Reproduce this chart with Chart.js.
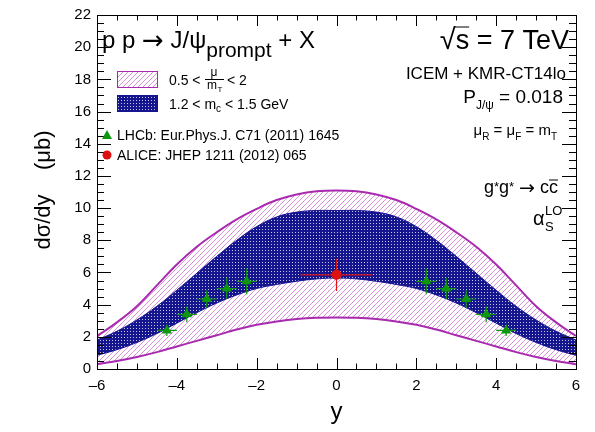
<!DOCTYPE html>
<html>
<head>
<meta charset="utf-8">
<script src="https://cdn.jsdelivr.net/npm/chart.js@4.4.1/dist/chart.umd.min.js"></script>
<style>
html, body { margin: 0; padding: 0; background: #fff; }
#wrap { width: 595px; height: 432px; }
</style>
</head>
<body>
<div id="wrap"><canvas id="dsdy" width="595" height="432"></canvas></div>
<script>
// rapidity grid for the theory curves
var rapidity = [-6, -5.5, -5, -4.5, -4, -3.5, -3, -2.5, -2, -1.5, -1, -0.5, 0, 0.5, 1, 1.5, 2, 2.5, 3, 3.5, 4, 4.5, 5, 5.5, 6];
// scale variation 0.5 < mu/mT < 2
var scaleHigh = [2.05, 2.9, 3.9, 5.2, 6.5, 7.6, 8.5, 9.3, 9.95, 10.5, 10.85, 11.05, 11.1, 11.05, 10.85, 10.5, 9.95, 9.3, 8.5, 7.6, 6.5, 5.2, 3.9, 2.9, 2.05];
var scaleLow = [0.3, 0.5, 0.75, 1.05, 1.4, 1.75, 2.1, 2.45, 2.75, 2.95, 3.1, 3.18, 3.2, 3.18, 3.1, 2.95, 2.75, 2.45, 2.1, 1.75, 1.4, 1.05, 0.75, 0.5, 0.3];
// charm mass variation 1.2 < mc < 1.5 GeV
var massHigh = [1.8, 2.35, 3.05, 3.9, 4.9, 5.95, 7.0, 8.0, 8.85, 9.45, 9.75, 9.85, 9.85, 9.85, 9.75, 9.45, 8.85, 8.0, 7.0, 5.95, 4.9, 3.9, 3.05, 2.35, 1.8];
var massLow = [0.85, 1.2, 1.65, 2.2, 2.85, 3.5, 4.1, 4.6, 5.0, 5.25, 5.45, 5.6, 5.65, 5.6, 5.45, 5.25, 5.0, 4.6, 4.1, 3.5, 2.85, 2.2, 1.65, 1.2, 0.85];

// LHCb prompt J/psi
var lhcbRap = [-4.25, -3.75, -3.25, -2.75, -2.25, 2.25, 2.75, 3.25, 3.75, 4.25];
var lhcbXsec = [2.4, 3.4, 4.35, 5.0, 5.45, 5.45, 5.0, 4.35, 3.4, 2.4];
var lhcbErr = [0.35, 0.5, 0.55, 0.65, 0.8, 0.8, 0.65, 0.55, 0.5, 0.35];
var lhcbBin = [0.25, 0.25, 0.25, 0.25, 0.25, 0.25, 0.25, 0.25, 0.25, 0.25];
// ALICE mid-rapidity
var aliceRap = [0];
var aliceXsec = [5.85];
var aliceErr = [1.0];
var aliceBin = [0.9];

var xTicks = [-6, -4, -2, 0, 2, 4, 6];
var xTickText = ['\u20136', '\u20134', '\u20132', '0', '2', '4', '6'];
var yTicks = [0, 2, 4, 6, 8, 10, 12, 14, 16, 18, 20, 22];

var FONT = '"Liberation Sans", Arial, Helvetica, sans-serif';
var SYM = '"DejaVu Sans", sans-serif';
var MAGENTA = '#a82aae';
var NAVY = '#15158f';
var GREEN = '#0e960e';
var RED = '#dd1111';

function pts(xs, ys) {
  return xs.map(function (x, i) { return { x: x, y: ys[i] }; });
}

function hatchPattern() {
  var c = document.createElement('canvas');
  c.width = 5; c.height = 5;
  var g = c.getContext('2d');
  g.strokeStyle = '#d993dc';
  g.lineWidth = 1;
  g.beginPath();
  g.moveTo(-1, 6); g.lineTo(6, -1);
  g.moveTo(-1, 1); g.lineTo(1, -1);
  g.moveTo(4, 6); g.lineTo(6, 4);
  g.stroke();
  return g.createPattern(c, 'repeat');
}

function dotPattern() {
  var c = document.createElement('canvas');
  c.width = 3; c.height = 3;
  var g = c.getContext('2d');
  g.fillStyle = NAVY;
  g.fillRect(0, 0, 3, 3);
  g.fillStyle = 'rgba(255,255,255,0.75)';
  g.fillRect(1, 1, 1, 1);
  return g.createPattern(c, 'repeat');
}

var hatch = hatchPattern();
var dots = dotPattern();

// text made of pieces with their own size, font and baseline shift
function rich(ctx, x, y, parts, align) {
  var w = 0;
  parts.forEach(function (p) {
    ctx.font = p.s + 'px ' + (p.f || FONT);
    p.w = ctx.measureText(p.t).width;
    w += p.w;
  });
  var cx = align === 'right' ? x - w : x;
  ctx.textAlign = 'left';
  ctx.textBaseline = 'alphabetic';
  parts.forEach(function (p) {
    ctx.font = p.s + 'px ' + (p.f || FONT);
    ctx.fillText(p.t, cx, y + (p.dy || 0));
    if (p.over) {
      ctx.beginPath();
      ctx.lineWidth = 1;
      ctx.moveTo(cx + (p.ox || 0), y + (p.dy || 0) - p.over);
      ctx.lineTo(cx + p.w, y + (p.dy || 0) - p.over);
      ctx.stroke();
    }
    cx += p.w;
  });
}

var errorSets = {
  4: { x: lhcbRap, y: lhcbXsec, ey: lhcbErr, ex: lhcbBin, color: GREEN },
  5: { x: aliceRap, y: aliceXsec, ey: aliceErr, ex: aliceBin, color: RED }
};

var errorBars = {
  id: 'errorBars',
  beforeDatasetDraw: function (chart, args) {
    var set = errorSets[args.index];
    if (!set) return;
    var ctx = chart.ctx, sx = chart.scales.x, sy = chart.scales.y;
    ctx.save();
    ctx.strokeStyle = set.color;
    ctx.lineWidth = 1.2;
    set.x.forEach(function (x, i) {
      var px = sx.getPixelForValue(x), py = sy.getPixelForValue(set.y[i]);
      ctx.beginPath();
      ctx.moveTo(sx.getPixelForValue(x - set.ex[i]), py);
      ctx.lineTo(sx.getPixelForValue(x + set.ex[i]), py);
      ctx.moveTo(px, sy.getPixelForValue(set.y[i] - set.ey[i]));
      ctx.lineTo(px, sy.getPixelForValue(set.y[i] + set.ey[i]));
      ctx.stroke();
    });
    ctx.restore();
  }
};

var frame = {
  id: 'frame',
  afterDraw: function (chart) {
    var ctx = chart.ctx, a = chart.chartArea, sx = chart.scales.x, sy = chart.scales.y;
    ctx.save();
    ctx.strokeStyle = '#000';
    ctx.fillStyle = '#000';
    ctx.lineWidth = 1;
    ctx.strokeRect(a.left + 0.5, a.top + 0.5, a.right - a.left, a.bottom - a.top);

    // inward ticks on all four sides
    ctx.beginPath();
    var v, p, len;
    for (v = -6; v <= 6.001; v += 0.5) {
      p = Math.round(sx.getPixelForValue(v)) + 0.5;
      len = Math.abs(v % 2) < 0.01 ? 11 : 5.5;
      ctx.moveTo(p, a.bottom); ctx.lineTo(p, a.bottom - len);
      ctx.moveTo(p, a.top); ctx.lineTo(p, a.top + len);
    }
    for (v = 0; v <= 22.001; v += 0.5) {
      p = Math.round(sy.getPixelForValue(v)) + 0.5;
      len = Math.abs(v % 2) < 0.01 ? 14 : 7;
      ctx.moveTo(a.left, p); ctx.lineTo(a.left + len, p);
      ctx.moveTo(a.right, p); ctx.lineTo(a.right - len, p);
    }
    ctx.stroke();

    ctx.font = '15px ' + FONT;
    ctx.textAlign = 'center';
    ctx.textBaseline = 'alphabetic';
    xTicks.forEach(function (t, i) {
      ctx.fillText(xTickText[i], sx.getPixelForValue(t), a.bottom + 21);
    });
    ctx.textAlign = 'right';
    ctx.textBaseline = 'middle';
    yTicks.forEach(function (t) {
      ctx.fillText(String(t), a.left - 6, sy.getPixelForValue(t));
    });

    // axis titles
    ctx.font = '24px ' + FONT;
    ctx.textAlign = 'center';
    ctx.textBaseline = 'alphabetic';
    ctx.fillText('y', (a.left + a.right) / 2, 419);
    ctx.save();
    ctx.translate(50, 190);
    ctx.rotate(-Math.PI / 2);
    ctx.font = '22px ' + FONT;
    ctx.fillText('d\u03c3/dy    (\u03bcb)', 0, 0);
    ctx.restore();

    // process and settings
    rich(ctx, 102, 48, [
      { t: 'p p ', s: 24 },
      { t: '\u2192', s: 26, f: SYM, dy: 1 },
      { t: ' J/\u03c8', s: 24 },
      { t: 'prompt', s: 21, dy: 9 },
      { t: ' + X', s: 24 }
    ]);
    rich(ctx, 569, 49, [
      { t: '\u221a', s: 29 },
      { t: 's', s: 27, over: 22, ox: -1 },
      { t: ' = 7 TeV', s: 27 }
    ], 'right');
    rich(ctx, 566, 79, [{ t: 'ICEM + KMR-CT14lo', s: 17 }], 'right');
    rich(ctx, 563, 103, [
      { t: 'P', s: 19 },
      { t: 'J/\u03c8', s: 12, dy: 6 },
      { t: ' = 0.018', s: 19 }
    ], 'right');
    rich(ctx, 557, 135, [
      { t: '\u03bc', s: 15 }, { t: 'R', s: 10, dy: 5 },
      { t: ' = \u03bc', s: 15 }, { t: 'F', s: 10, dy: 5 },
      { t: ' = m', s: 15 }, { t: 'T', s: 10, dy: 5 }
    ], 'right');
    rich(ctx, 558, 193, [
      { t: 'g', s: 18 }, { t: '*', s: 13, dy: -2 },
      { t: 'g', s: 18 }, { t: '*', s: 13, dy: -2 },
      { t: ' ', s: 18 },
      { t: '\u2192', s: 19, f: SYM, dy: 1 },
      { t: ' c', s: 18 },
      { t: 'c', s: 18, over: 13 }
    ], 'right');
    ctx.font = '20px ' + FONT;
    ctx.textAlign = 'left';
    ctx.fillText('\u03b1', 533, 225);
    ctx.font = '13px ' + FONT;
    ctx.fillText('LO', 545, 215);
    ctx.fillText('S', 545, 231);

    // legend
    ctx.fillStyle = hatch;
    ctx.fillRect(117, 71, 40, 16);
    ctx.strokeStyle = MAGENTA;
    ctx.strokeRect(117.5, 71.5, 40, 16);
    ctx.fillStyle = dots;
    ctx.fillRect(117, 95, 40, 16);
    ctx.strokeStyle = NAVY;
    ctx.strokeRect(117.5, 95.5, 40, 16);

    ctx.fillStyle = '#000';
    ctx.strokeStyle = '#000';
    ctx.font = '14px ' + FONT;
    ctx.fillText('0.5 <', 169, 85);
    ctx.font = '12px ' + FONT;
    ctx.textAlign = 'center';
    ctx.fillText('\u03bc', 214, 76);
    ctx.beginPath();
    ctx.moveTo(205, 79.5); ctx.lineTo(224, 79.5);
    ctx.stroke();
    ctx.fillText('m', 212, 89);
    ctx.font = '8px ' + FONT;
    ctx.fillText('T', 220, 92);
    ctx.textAlign = 'left';
    ctx.font = '14px ' + FONT;
    ctx.fillText('< 2', 227, 85);
    rich(ctx, 169, 109, [
      { t: '1.2 < m', s: 14 }, { t: 'c', s: 10, dy: 3 }, { t: ' < 1.5 GeV', s: 14 }
    ]);

    ctx.fillStyle = GREEN;
    ctx.beginPath();
    ctx.moveTo(107, 130); ctx.lineTo(112, 139); ctx.lineTo(102, 139);
    ctx.closePath();
    ctx.fill();
    ctx.fillStyle = RED;
    ctx.beginPath();
    ctx.arc(107, 155, 4.5, 0, Math.PI * 2);
    ctx.fill();
    ctx.fillStyle = '#000';
    ctx.font = '14px ' + FONT;
    ctx.fillText('LHCb: Eur.Phys.J. C71 (2011) 1645', 117, 140);
    ctx.fillText('ALICE: JHEP 1211 (2012) 065', 117, 160);
    ctx.restore();
  }
};

new Chart(document.getElementById('dsdy'), {
  type: 'scatter',
  data: {
    datasets: [
      { label: 'scale high', data: pts(rapidity, scaleHigh), showLine: true, pointRadius: 0,
        borderColor: MAGENTA, borderWidth: 2, backgroundColor: hatch, fill: '+1',
        tension: 0.4, order: 5 },
      { label: 'scale low', data: pts(rapidity, scaleLow), showLine: true, pointRadius: 0,
        borderColor: MAGENTA, borderWidth: 2, fill: false,
        tension: 0.4, order: 4 },
      { label: 'mass high', data: pts(rapidity, massHigh), showLine: true, pointRadius: 0,
        borderColor: NAVY, borderWidth: 1, backgroundColor: dots, fill: '+1',
        tension: 0.4, order: 3 },
      { label: 'mass low', data: pts(rapidity, massLow), showLine: true, pointRadius: 0,
        borderColor: NAVY, borderWidth: 1, fill: false,
        tension: 0.4, order: 2 },
      { label: 'LHCb', data: pts(lhcbRap, lhcbXsec), pointStyle: 'triangle', pointRadius: 6,
        backgroundColor: GREEN, borderColor: GREEN, borderWidth: 0, order: 1 },
      { label: 'ALICE', data: pts(aliceRap, aliceXsec), pointStyle: 'circle', pointRadius: 5,
        backgroundColor: RED, borderColor: RED, borderWidth: 0, order: 0 }
    ]
  },
  options: {
    responsive: false,
    devicePixelRatio: 1,
    animation: false,
    layout: { padding: { left: 97, right: 19, top: 15, bottom: 63 } },
    plugins: { legend: { display: false }, tooltip: { enabled: false } },
    scales: {
      x: { type: 'linear', min: -6, max: 6, display: false },
      y: { type: 'linear', min: 0, max: 22, display: false }
    }
  },
  plugins: [errorBars, frame]
});
</script>
</body>
</html>
